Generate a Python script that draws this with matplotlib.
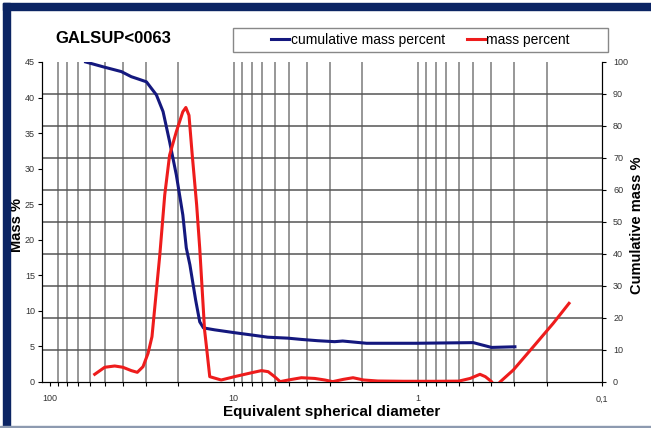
import numpy as np
import matplotlib.pyplot as plt
from matplotlib.patches import Rectangle

plt.rcParams['font.family'] = ['Liberation Sans', 'DejaVu Sans']

# cumulative mass percent (right axis), diameter vs %
cum_d = [63.7, 51.3, 40.8, 36.0, 33.1, 29.8, 26.3, 24.2, 22.3, 20.5, 18.9, 18.1,
         17.3, 16.1, 15.3, 14.6, 12.7, 9.88, 8.02, 6.54, 5.09, 4.29, 3.50, 2.83,
         2.56, 1.90, 1.02, 0.50, 0.45, 0.398, 0.297]
cum_pct = [100, 98.5, 97.0, 95.4, 94.7, 93.8, 89.7, 84.5, 75.1, 64.7, 52.2, 41.9,
           36.6, 25.6, 18.8, 16.9, 16.3, 15.4, 14.7, 14.0, 13.7, 13.3, 12.9, 12.6,
           12.8, 12.1, 12.1, 12.3, 11.6, 10.8, 11.0]

# mass percent (left axis)
mass_d = [56.9, 50.2, 44.3, 40.0, 36.0, 33.4, 31.1, 29.2, 27.8, 25.2, 23.7, 22.3,
          20.5, 18.9, 18.2, 17.5, 16.8, 15.9, 15.3, 14.4, 14.0, 13.5, 11.7, 9.9,
          8.0, 7.07, 6.5, 6.0, 5.6, 5.05, 4.29, 3.63, 3.2, 2.9, 2.54, 2.25, 1.97,
          1.65, 1.2, 0.8, 0.6, 0.52, 0.46, 0.43, 0.398, 0.378, 0.358, 0.303, 0.236,
          0.184, 0.151]
mass_pct = [1.08, 2.07, 2.25, 2.07, 1.6, 1.36, 2.15, 4.03, 6.37, 17.9, 26.3, 31.9,
            35.2, 38.0, 38.6, 37.5, 31.9, 24.9, 18.8, 7.3, 4.5, 0.75, 0.28, 0.75,
            1.3, 1.6, 1.45, 0.75, 0.05, 0.28, 0.6, 0.5, 0.28, 0.05, 0.37, 0.6, 0.28,
            0.14, 0.1, 0.1, 0.12, 0.5, 1.08, 0.75, 0.05, -0.8, 0.0, 1.69, 4.96,
            8.25, 11.06]

xticks = [100, 10, 1, 0.1]
xtick_labels = ['100', '10', '1', '0,1']
grid_x = [90, 80, 70, 60, 50, 40, 30, 20,
          10, 9, 8, 7, 6, 5, 4, 3, 2,
          1, 0.9, 0.8, 0.7, 0.6, 0.5, 0.4, 0.3, 0.2]

navy = '#14187e'
red = '#ee1c1c'

fig = plt.figure(figsize=(6.51, 4.28), dpi=100)
ax = fig.add_axes([0.0645, 0.1075, 0.8602, 0.7477])
ax2 = ax.twinx()

ax.set_xscale('log')
ax.set_xlim(110, 0.1)
ax.set_ylim(0, 45)
ax2.set_ylim(0, 100)

# grid
for g in grid_x:
    ax2.axvline(g, color='#7a7a7a', lw=1.1, zorder=0)
ax2.set_yticks(np.arange(0, 101, 10))
for yv in range(10, 100, 10):
    ax2.axhline(yv, color='#555555', lw=1.1, zorder=0)

ax2.plot(cum_d, cum_pct, color=navy, lw=2.2, zorder=3)
ax.plot(mass_d, mass_pct, color=red, lw=2.2, zorder=4)
ax.set_zorder(ax2.get_zorder() + 1)
ax.patch.set_visible(False)

ax.set_yticks(np.arange(0, 46, 5))
ax.set_xticks(xticks)
ax.set_xticklabels(xtick_labels)
ax.xaxis.set_minor_locator(plt.FixedLocator(grid_x))
ax.xaxis.set_minor_formatter(plt.NullFormatter())

for a in (ax, ax2):
    a.spines['top'].set_visible(False)
    a.tick_params(axis='both', which='both', labelsize=6.5, labelcolor='#333333',
                  length=3, width=0.8, direction='out', pad=3)
ax.tick_params(axis='x', which='major', pad=6)
ax.tick_params(axis='y', pad=2)
ax2.tick_params(axis='y', pad=5)

fig.text(0.026, 0.474, 'Mass %', fontsize=10.5, fontweight='bold',
         rotation=90, ha='center', va='center')
fig.text(0.978, 0.474, 'Cumulative mass %', fontsize=10.5, fontweight='bold',
         rotation=90, ha='center', va='center')
fig.text(0.51, 0.038, 'Equivalent spherical diameter', fontsize=11,
         fontweight='bold', ha='center', va='center')
fig.text(0.085, 0.911, 'GALSUP<0063', fontsize=12, fontweight='bold',
         ha='left', va='center')

# legend box drawn separately so it can be wider than its entries
fig.patches.append(Rectangle((233 / 651, 1 - 52 / 428), 375 / 651, 24 / 428,
                             transform=fig.transFigure, facecolor='white',
                             edgecolor='#888888', lw=1.0, zorder=5))
h1, = ax.plot([], [], color=navy, lw=2.2)
h2, = ax.plot([], [], color=red, lw=2.2)
leg = fig.legend([h1, h2], ['cumulative mass percent', 'mass percent'],
                 loc='center', bbox_to_anchor=(0.646, 0.907), ncol=2,
                 fontsize=10, frameon=False,
                 handlelength=1.3, handletextpad=0.1, columnspacing=1.6)
leg.set_zorder(6)

# frame
fig.patches.append(Rectangle((3 / 651, 1 - 10 / 428), 1, 7 / 428,
                             transform=fig.transFigure, color='#0b2463', zorder=10))
fig.patches.append(Rectangle((3 / 651, 0), 7 / 651, 1 - 3 / 428,
                             transform=fig.transFigure, color='#0b2463', zorder=10))
fig.patches.append(Rectangle((0, 0), 1, 2 / 428,
                             transform=fig.transFigure, color='#8d9ab0', zorder=10))

fig.savefig('out.png', dpi=100)
